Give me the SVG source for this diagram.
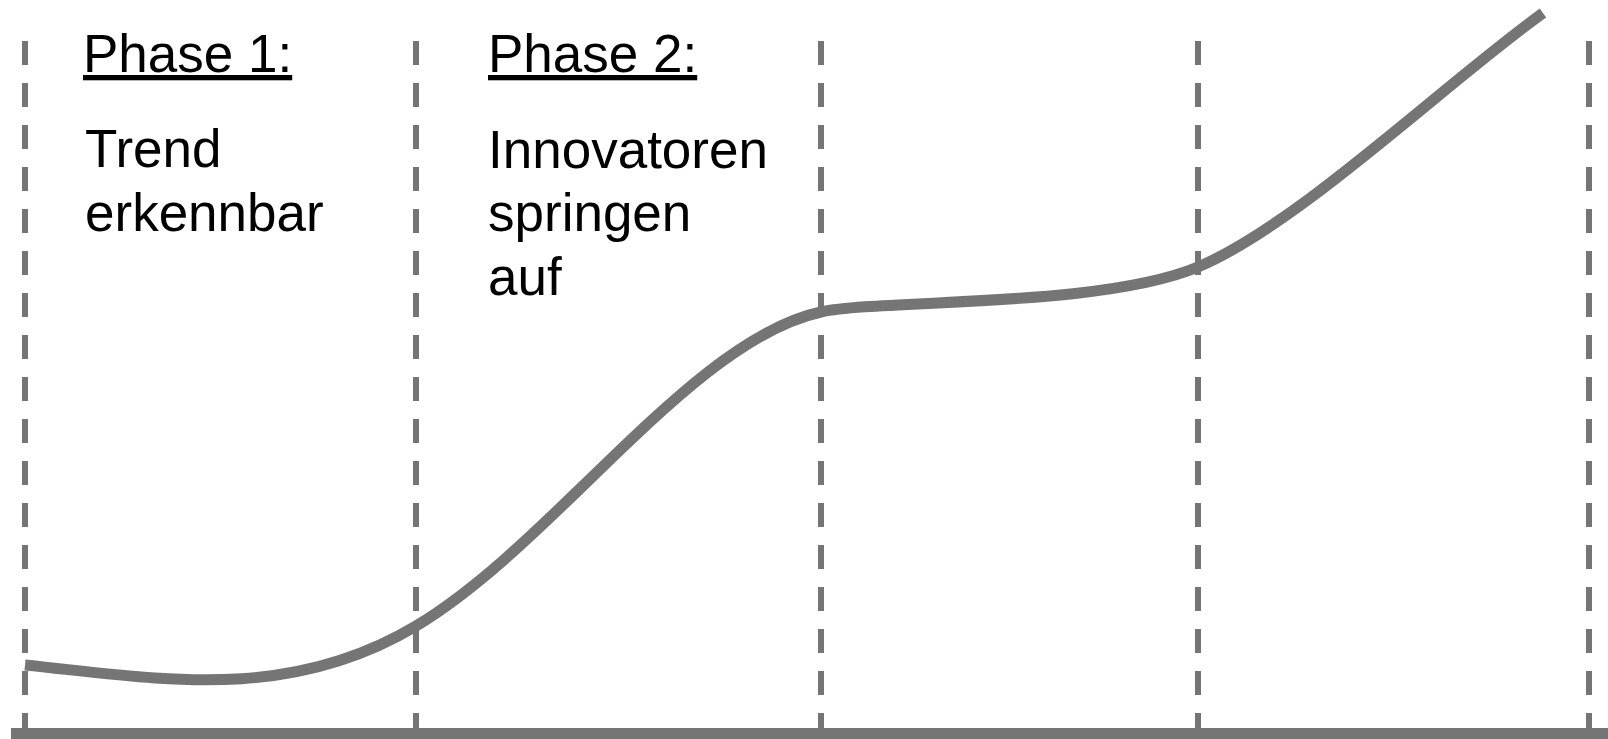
<svg xmlns="http://www.w3.org/2000/svg" width="1608" height="739" viewBox="0 0 1608 739">
<style>
.grid{stroke:#757575;stroke-width:6;stroke-dasharray:24 18;fill:none}
.curve{stroke:#757575;stroke-width:11;fill:none;stroke-linecap:butt}
.axis{fill:#757575}
text{font-family:"Liberation Sans",Arial,sans-serif;font-size:53px;fill:#000}
.head{text-decoration:underline}
</style>
<rect width="1608" height="739" fill="#fff"/>
<g id="gridlines">
<line class="grid" x1="25" y1="41" x2="25" y2="730"/>
<line class="grid" x1="416" y1="41" x2="416" y2="730"/>
<line class="grid" x1="821" y1="41" x2="821" y2="730"/>
<line class="grid" x1="1198" y1="41" x2="1198" y2="730"/>
<line class="grid" x1="1589" y1="41" x2="1589" y2="730"/>
</g>
<g id="connectors">
<path class="curve" d="M25,665 C155,678 286,704 416,626 C556,542 691,340 821,312 C881,299 1100,308 1198,267 C1298,225 1443,85 1543,13"/>
</g>
<rect id="axis" class="axis" x="11" y="728" width="1597" height="11"/>
<g id="phase1">
<text class="head" x="83" y="72">Phase 1:</text>
<text x="85" y="167">Trend</text>
<text x="85" y="231">erkennbar</text>
</g>
<g id="phase2">
<text class="head" x="488" y="72">Phase 2:</text>
<text x="488" y="168">Innovatoren</text>
<text x="488" y="231">springen</text>
<text x="488" y="295">auf</text>
</g>
</svg>
